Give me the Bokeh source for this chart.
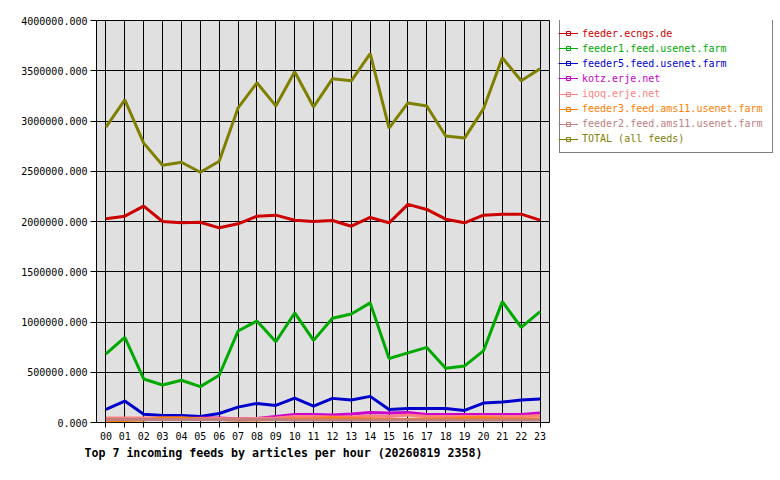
from bokeh.plotting import figure
from bokeh.layouts import row
from bokeh.models import Range1d, FixedTicker, PrintfTickFormatter, Legend, LegendItem, Title
from bokeh.embed import file_html
from bokeh.resources import INLINE

hours = [f"{h:02d}" for h in range(24)]
hour_idx = list(range(24))
y_ticks = [0, 500000, 1000000, 1500000, 2000000, 2500000, 3000000, 3500000, 4000000]

feed_names = [
    "feeder.ecngs.de",
    "feeder1.feed.usenet.farm",
    "feeder5.feed.usenet.farm",
    "kotz.erje.net",
    "iqoq.erje.net",
    "feeder3.feed.ams11.usenet.farm",
    "feeder2.feed.ams11.usenet.farm",
    "TOTAL (all feeds)",
]

feeder_ecngs = [2027000, 2053000, 2153000, 2000000, 1987000, 1993000, 1937000, 1977000,
                2053000, 2063000, 2013000, 2000000, 2010000, 1953000, 2040000, 1987000,
                2170000, 2120000, 2023000, 1987000, 2063000, 2073000, 2073000, 2013000]
feeder1 = [683000, 847000, 433000, 373000, 420000, 357000, 470000, 910000,
           1010000, 803000, 1090000, 817000, 1037000, 1080000, 1190000, 637000,
           693000, 747000, 540000, 563000, 713000, 1203000, 947000, 1103000]
feeder5 = [130000, 213000, 83000, 70000, 70000, 60000, 90000, 153000,
           190000, 170000, 243000, 163000, 240000, 223000, 260000, 130000,
           140000, 140000, 140000, 120000, 193000, 203000, 223000, 233000]
kotz = [30000, 30000, 30000, 30000, 30000, 45000, 45000, 35000,
        40000, 60000, 80000, 80000, 75000, 85000, 100000, 95000,
        100000, 80000, 80000, 80000, 80000, 80000, 80000, 95000]
iqoq = [45000, 45000, 45000, 45000, 45000, 40000, 40000, 35000,
        40000, 45000, 60000, 60000, 55000, 55000, 65000, 60000,
        75000, 60000, 60000, 60000, 60000, 60000, 60000, 70000]
feeder3 = [15000, 20000, 25000, 45000, 45000, 35000, 30000, 25000,
           25000, 30000, 35000, 35000, 45000, 40000, 35000, 30000,
           30000, 35000, 35000, 45000, 45000, 35000, 35000, 35000]
feeder2 = [30000, 30000, 30000, 30000, 30000, 30000, 30000, 25000,
           30000, 30000, 25000, 25000, 25000, 25000, 25000, 25000,
           25000, 25000, 25000, 25000, 25000, 25000, 25000, 25000]
total = [2940000, 3210000, 2780000, 2560000, 2590000, 2490000, 2600000, 3130000,
         3380000, 3150000, 3490000, 3140000, 3420000, 3400000, 3670000, 2930000,
         3180000, 3150000, 2850000, 2830000, 3120000, 3630000, 3400000, 3520000]

series = [feeder_ecngs, feeder1, feeder5, kotz, iqoq, feeder3, feeder2, total]
colors = ["#cc0000", "#00aa00", "#0000cc", "#cc00cc", "#ff8080", "#ff8000", "#c08080", "#808000"]

title_text = "Top 7 incoming feeds by articles per hour (20260819 2358)"

MONO = "DejaVu Sans Mono"
W_MAIN = 556
W_LEG = 224
H = 480

p = figure(width=W_MAIN, height=H, output_backend="svg", toolbar_location=None,
           x_range=Range1d(-0.5, 23.5), y_range=Range1d(0, 4000000),
           min_border_left=96, min_border_right=7, min_border_top=20, min_border_bottom=58,
           background_fill_color="#e0e0e0", border_fill_color="white",
           outline_line_color="black", outline_line_width=1)

p.xaxis.ticker = FixedTicker(ticks=hour_idx)
p.xaxis.major_label_overrides = {i: hours[i] for i in hour_idx}
p.yaxis.ticker = FixedTicker(ticks=y_ticks)
p.yaxis.formatter = PrintfTickFormatter(format="%.3f")
for ax in (p.xaxis[0], p.yaxis[0]):
    ax.axis_line_color = None
    ax.minor_tick_line_color = None
    ax.major_tick_line_color = "black"
    ax.major_tick_in = 0
    ax.major_label_text_font = MONO
    ax.major_label_text_font_size = "10px"
    ax.major_label_text_color = "black"
p.xaxis.major_tick_out = 5
p.xaxis.major_label_standoff = 4
p.yaxis.major_tick_out = 6
p.yaxis.major_label_standoff = 3

p.xgrid.grid_line_color = "black"
p.ygrid.grid_line_color = "black"
p.xgrid.grid_line_alpha = 1
p.ygrid.grid_line_alpha = 1

for vals, col in zip(series, colors):
    p.line(x=hour_idx, y=vals, line_color=col, line_width=3)

p.add_layout(Title(text=title_text, align="left", offset=-12, standoff=2,
                   text_font=MONO, text_font_size="11.6px", text_font_style="bold",
                   text_color="black"), "below")

# legend panel (a second plot holding only the legend)
lf = figure(width=W_LEG, height=H, output_backend="svg", toolbar_location=None,
            x_range=Range1d(0, 1), y_range=Range1d(0, 1),
            min_border=0, outline_line_color=None, border_fill_color="white",
            background_fill_color="white")
lf.axis.visible = False
lf.grid.visible = False

# off-screen proxies so that the legend can draw each series' glyph
line_rs = []
mark_rs = []
for col in colors:
    line_rs.append(lf.line(x=[-5, -4], y=[-5, -4], line_color=col, line_width=1))
    mark_rs.append(lf.scatter(x=[-5], y=[-5], marker="square", size=4, line_color=col,
                              fill_color=None))
ghost = lf.line(x=[-5, -4], y=[-5, -4], line_alpha=0)

# box of the legend
master = Legend(items=[LegendItem(label=" ", renderers=[ghost]) for _ in feed_names],
                location=(2.5, 269), margin=0, padding=6, spacing=0,
                glyph_width=15, glyph_height=15, label_height=15, label_width=181,
                label_standoff=4, label_text_font=MONO, label_text_font_size="10px",
                border_line_color="black", border_line_width=1,
                background_fill_color="white", background_fill_alpha=1,
                label_text_alpha=0)
lf.add_layout(master, "center")

# one entry per feed, each with its own text colour
for i, (n, r, m, col) in enumerate(zip(feed_names, line_rs, mark_rs, colors)):
    cy = 32.5 + 15.14 * i
    lg = Legend(items=[LegendItem(label=n, renderers=[r, m])],
                location=(2, 414 - cy), margin=0, padding=5, spacing=0,
                glyph_width=20, glyph_height=10, label_height=15, label_standoff=4,
                label_text_font=MONO, label_text_font_size="10px",
                border_line_color=None, background_fill_alpha=0, label_text_color=col)
    lf.add_layout(lg, "center")

layout = row(p, lf, spacing=0)
open("out.html", "w").write(file_html(layout, INLINE))
